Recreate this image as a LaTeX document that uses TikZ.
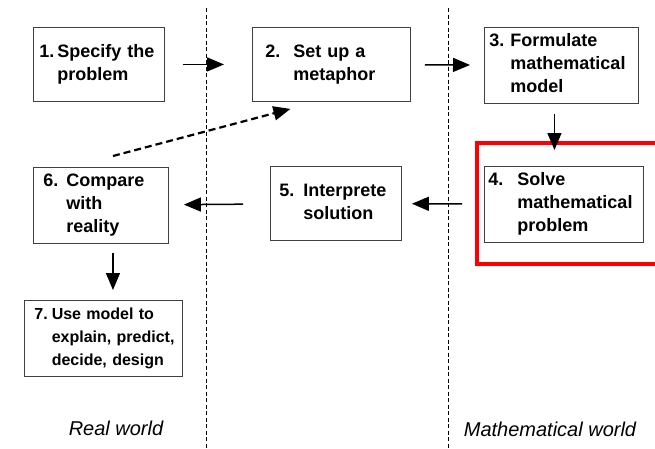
\documentclass[tikz,border=0pt]{standalone}
\usepackage{fontspec}
\setmainfont{Liberation Sans}
\usetikzlibrary{arrows.meta}

\newcommand{\stagetxt}[3]{\begin{tabular}{@{}l@{\hspace{#1}}l@{}}#2 & #3\end{tabular}}

\begin{document}
\begin{tikzpicture}[x=1pt,y=-1pt,->,>={Triangle[length=17pt,width=14pt]},line width=1.5pt,
  stage/.style 2 args={draw=black!75,line width=0.9pt,anchor=north west,minimum height=74pt,
    inner xsep=#2,text width=#1,align=left,font=\bfseries\fontsize{18}{23}\selectfont},
  divider/.style={-,line width=0.6pt,dash pattern=on 4pt off 2.5pt},
  world/.style={font=\itshape\fontsize{20}{24}\selectfont}]

  \useasboundingbox (0,0) rectangle (655,448);

  % the two borders between the worlds
  \draw[divider] (206,8) -- (206,448);
  \draw[divider] (448,8) -- (448,448);

  % highlight round step 4
  \begin{scope}
    \clip (0,0) rectangle (655,448);
    \draw[-,red,line width=4pt] (477,143) rectangle (670,264);
  \end{scope}

  \node[stage={119pt}{6pt}] (b1) at (33,27) {\stagetxt{3pt}{1.}{Specify the\\ & problem}};
  \node[stage={132pt}{13pt}] (b2) at (252,27) {\stagetxt{13pt}{2.}{Set up a\\ & metaphor}};
  \node[stage={144pt}{5pt}] (b3) at (484,27) {\stagetxt{6pt}{3.}{Formulate\\ & mathematical\\ & model}};
  \node[stage={151pt}{4pt}] (b4) at (484,166) {\stagetxt{14pt}{4.}{Solve\\ & mathematical\\ & problem}};
  \node[stage={113pt}{9pt}] (b5) at (270,166) {\stagetxt{9pt}{5.}{Interprete\\ & solution}};
  \node[stage={115pt}{10pt}] (b6) at (33,167) {\stagetxt{8pt}{6.}{Compare\\ & with\\ & reality}};
  \node[stage={138pt}{10pt},minimum height=75pt,font=\bfseries\fontsize{16}{23}\selectfont] (b7) at (24,300)
    {\stagetxt{4pt}{7.}{Use model to\\ & explain, predict,\\ & decide, design}};

  \node[world] (realw) at (116,428) {Real world};
  \node[world] (mathw) at (550,429) {Mathematical world};

  \draw[shorten <=18pt,shorten >=28pt] (b1) -- (b2);
  \draw[shorten <=14pt,shorten >=14pt] (b2) -- (b3);
  \draw[shorten <=10pt,shorten >=16pt] ([xshift=-7pt]b3.south) -- ([xshift=-7pt]b3.south |- b4.north);
  \draw[shorten <=22pt,shorten >=10pt] (b4) -- (b5);
  \draw[shorten <=27pt,shorten >=15pt] (b5) -- (b6);
  \draw[shorten <=9pt,shorten >=10pt] ([xshift=12pt]b6.south) -- ([xshift=12pt]b6.south |- b7.north);
  \draw[line width=2.2pt,dash pattern=on 7pt off 4pt] ([xshift=12pt,yshift=11pt]b6.north) -- ([xshift=-41pt,yshift=-7pt]b2.south);
\end{tikzpicture}
\end{document}
